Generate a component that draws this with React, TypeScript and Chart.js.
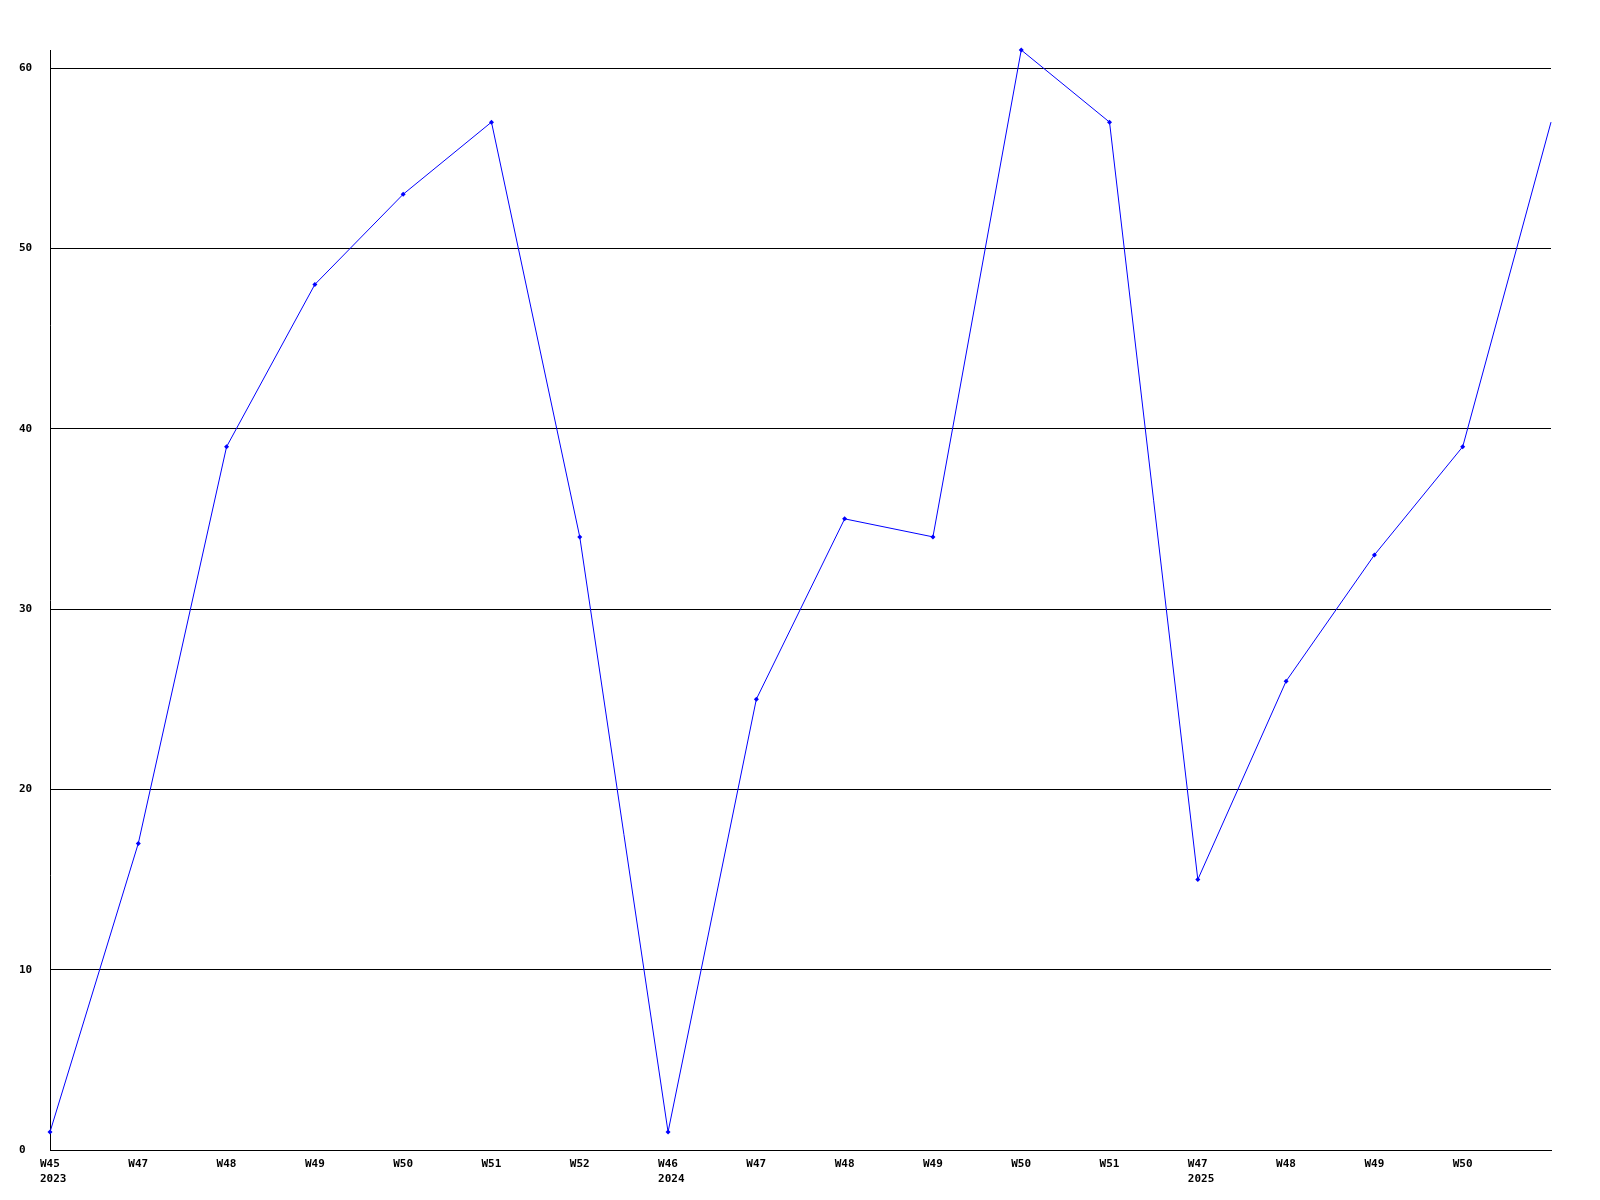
import React, { useEffect, useRef } from "react";
import { Chart, registerables } from "chart.js";

Chart.register(...registerables);

const weeks = ["W45", "W47", "W48", "W49", "W50", "W51", "W52", "W46", "W47", "W48", "W49", "W50", "W51", "W47", "W48", "W49", "W50", "W51"];
const years = ["2023", "", "", "", "", "", "", "2024", "", "", "", "", "", "2025", "", "", "", ""];
const values = [1, 17, 39, 48, 53, 57, 34, 1, 25, 35, 34, 61, 57, 15, 26, 33, 39, 57];
const yTicks = [0, 10, 20, 30, 40, 50, 60];

export default function App() {
  const ref = useRef<HTMLCanvasElement>(null);
  useEffect(() => {
    const labels = weeks.map((w, i) => (years[i] ? [w, years[i]] : w));
    const font = { family: '"DejaVu Sans Mono", monospace', size: 11, weight: "bold" as const, lineHeight: 1.35 };
    const last = values.length - 1;
    const chart = new Chart(ref.current!, {
      type: "line",
      data: {
        labels,
        datasets: [
          {
            data: values,
            borderColor: "#0000ff",
            backgroundColor: "#0000ff",
            borderWidth: 1,
            pointStyle: "rectRot",
            pointRadius: values.map((_v, i) => (i === last ? 0 : 2.5)),
            pointBorderWidth: 0,
            tension: 0,
            clip: false as any,
          },
        ],
      },
      options: {
        animation: false,
        responsive: false,
        layout: { padding: { left: 19, top: 50, right: 49, bottom: 0 } },
        plugins: { legend: { display: false }, tooltip: { enabled: false } },
        scales: {
          x: {
            grid: { display: false, drawTicks: false },
            border: { display: true, color: "#000", width: 1 },
            ticks: {
              color: "#000",
              font,
              maxRotation: 0,
              autoSkip: false,
              padding: 7,
              align: "start",
              labelOffset: -10,
              callback: (_v: any, i: number) => (i === last ? "" : (labels[i] as any)),
            },
            afterFit: (s: any) => {
              s.height = 50;
            },
          },
          y: {
            min: 0,
            max: 61,
            afterBuildTicks: (s: any) => {
              s.ticks = yTicks.map((v) => ({ value: v }));
            },
            grid: { color: "#000", lineWidth: 1, drawTicks: false },
            border: { display: true, color: "#000", width: 1 },
            ticks: { color: "#000", font: { ...font, lineHeight: 1.2 }, crossAlign: "far", padding: 0 },
            afterFit: (s: any) => {
              s.width = 31;
            },
          },
        },
      },
    });
    return () => chart.destroy();
  }, []);
  return (
    <div style={{ position: "absolute", left: 0, top: 0, width: 1600, height: 1200, background: "#fff" }}>
      <canvas ref={ref} width={1600} height={1200} style={{ width: 1600, height: 1200 }} />
    </div>
  );
}
